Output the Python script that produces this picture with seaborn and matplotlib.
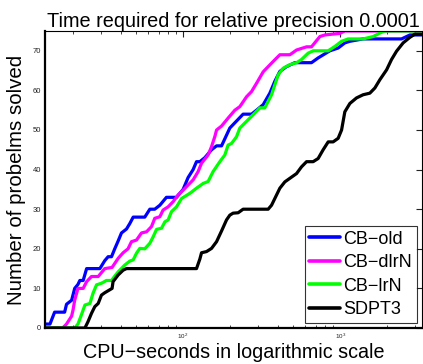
import numpy as np
import pandas as pd
import matplotlib
matplotlib.use("Agg")
import matplotlib.pyplot as plt
import seaborn as sns
from matplotlib.ticker import LogLocator, NullFormatter, FixedLocator

# ---- data (CPU seconds, number of problems solved) ----
cb_old_x = [13.2, 14.2, 15.2, 17.6, 18.1, 19.5, 20.4, 21.4, 22.0, 23.1, 24.3, 29.5, 31.7, 33.3, 35.0,
            36.7, 38.6, 40.5, 43.6, 45.8, 48.1, 57.0, 61.4, 66.0, 71.1, 78.3, 90.8, 100, 107.6, 115.8,
            121.7, 127.8, 137.4, 151.7, 163.3, 175.7, 189, 198.4, 241, 272.7, 293.5, 323.6, 356.6,
            383.7, 413, 455.8, 514, 657, 724, 860, 971, 1071, 1153, 1400, 2460, 2780, 3300]
cb_old_y = [1, 1, 4, 4, 6, 7, 10, 11, 12, 12, 15, 15, 17, 18, 18,
            20, 22, 24, 25, 26.4, 28, 28, 30, 30, 31, 33, 33, 35, 38, 40,
            42, 42, 43, 45, 46, 46, 48.7, 50.5, 54, 54, 55, 56.4, 59.3,
            62.3, 64.8, 66, 67, 67, 68.2, 70, 70.7, 72, 72.4, 73, 73, 74, 74]

cb_dlrn_x = [13.2, 17.1, 18.1, 19.5, 19.9, 20.4, 21.4, 23.1, 24.3, 26.1, 28.8, 31.7, 35.3, 36.7, 38.6,
             41.5, 44.6, 46.9, 50.5, 54.3, 58.5, 62.9, 66.0, 71.1, 74.6, 80.3, 86.4, 92.9, 100, 107.6,
             115.8, 124.6, 131, 144.3, 151.7, 159.1, 163.3, 175.7, 193.4, 213.5, 229.7, 253.5, 272.7,
             293.5, 323.6, 347.9, 374.4, 413, 478.3, 527.7, 610.9, 657, 742.5, 799, 995, 1071, 3300]
cb_dlrn_y = [0, 0, 1, 3, 4.5, 7, 10, 10, 11.7, 13, 13, 15, 15.3, 16.3, 17.6,
             19, 20, 21.8, 22.2, 24, 24.3, 25.6, 27.7, 28.1, 29.8, 30.6, 31.9, 33.6, 34.8, 36.1,
             37.4, 39.5, 41.6, 43.7, 45.8, 48.3, 50, 51, 53, 55, 55.9, 58.4, 59.7,
             61.8, 64.7, 66, 67.3, 69, 69, 70.2, 71, 71, 73.6, 74, 74.4, 75, 75]

cb_lrn_x = [13.2, 20.4, 21.4, 22.5, 23.7, 25.5, 26.7, 28.1, 30.2, 32.5, 35.0, 36.7, 38.6, 42.5, 45.8,
            48.1, 50.5, 53.0, 57.0, 61.4, 64.4, 67.7, 72.9, 76.5, 80.3, 84.4, 90.8, 97.7, 110.3, 121.7,
            134.1, 144.3, 155.2, 171.3, 184.4, 193.4, 203.4, 218.8, 229.7, 253.5, 286.2, 308, 331.4,
            365.7, 383.7, 402.7, 433.5, 478.3, 527.7, 567.5, 625.3, 673, 839, 925, 1021, 1125, 1400,
            1622, 1790, 1927, 3300]
cb_lrn_y = [0, 0, 1, 3.3, 5.8, 6.2, 8.8, 10.9, 11.3, 12, 12, 13.1, 14.2, 15.9, 16.9,
            17.2, 18.9, 20.1, 20, 21.4, 23, 24.9, 25.2, 26.8, 27.3, 29.4, 30.6, 32.7, 34, 35.3,
            36.5, 37, 39.5, 42, 43.7, 46.2, 46.6, 48.3, 50.5, 52.2, 54.3, 55.6, 55.6,
            58.9, 61.4, 63.9, 65.6, 66.5, 67, 67.8, 69.4, 70, 70, 71.1, 72.4, 73, 73,
            73.6, 74.5, 75, 75]

sdpt3_x = [13.2, 23.7, 24.8, 26.1, 27.4, 28.8, 30.2, 31.7, 35.3, 35.8, 38.6, 41.5, 43.6, 121.7, 127.8,
           131, 141, 151.7, 163.3, 175.7, 189, 198.4, 208.1, 224.1, 241, 347.9, 365.7, 393.6, 413,
           444.4, 478.3, 527.7, 567.5, 610.9, 673, 724, 779, 839, 902, 971, 1021, 1071, 1153, 1271,
           1400, 1545, 1663, 1790, 1976, 2124, 2286, 2518, 2780, 2990, 3300]
sdpt3_y = [0, 0, 1.6, 3.7, 5.4, 6.2, 8.3, 8.9, 10, 11.7, 13.4, 14.6, 15, 15, 17.4,
           19, 19.3, 20.1, 21.8, 24.5, 27.3, 28.5, 29, 29.1, 30, 30, 31, 33.6, 35.3,
           36.9, 37.8, 39, 40.7, 42, 42, 42.8, 45, 47, 47, 47.9, 50, 54.6, 56.7, 58.1,
           58.9, 59.3, 60.6, 62.7, 65.2, 67.8, 69.9, 72, 73.4, 74.2, 74.2]

solvers = ["CB\u2212old", "CB\u2212dlrN", "CB\u2212lrN", "SDPT3"]
colors = ["#0000ff", "#ff00ff", "#00ff00", "#000000"]
yticks = [0, 10, 20, 30, 40, 50, 60, 70]

series = [(cb_old_x, cb_old_y), (cb_dlrn_x, cb_dlrn_y), (cb_lrn_x, cb_lrn_y), (sdpt3_x, sdpt3_y)]
frames = []
for name, (xs, ys) in zip(solvers, series):
    frames.append(pd.DataFrame({"time": xs, "solved": ys, "solver": name}))
df = pd.concat(frames, ignore_index=True)

sns.set_style("white")
plt.rcParams['font.family'] = ['Liberation Sans', 'DejaVu Sans']
plt.rcParams['mathtext.fontset'] = 'custom'
plt.rcParams['mathtext.rm'] = 'Liberation Sans'
plt.rcParams['text.color'] = 'black'
plt.rcParams['axes.labelcolor'] = 'black'

fig = plt.figure(figsize=(4.23, 3.64), dpi=100)
ax = fig.add_axes([45 / 423, 36 / 364, 377 / 423, 297 / 364])

sns.lineplot(data=df, x="time", y="solved", hue="solver", hue_order=solvers,
             palette=colors, estimator=None, sort=False, linewidth=2.3, ax=ax)

ax.set_xscale("log")
ax.set_xlim(13.2, 3320)
ax.set_ylim(0, 75)

ax.set_yticks(yticks)
ax.set_yticklabels([str(v) for v in yticks], fontsize=5.5, color="#222222")
ax.xaxis.set_major_locator(FixedLocator([100, 1000]))
ax.set_xticklabels([r"$10^2$", r"$10^3$"], fontsize=4.5, color="#222222")
ax.xaxis.set_minor_locator(LogLocator(base=10, subs=np.arange(2, 10)))
ax.xaxis.set_minor_formatter(NullFormatter())
ax.tick_params(axis="both", which="major", direction="in", length=4, width=0.8,
               top=True, right=True, pad=3, colors="#222222")
ax.tick_params(axis="x", which="minor", direction="in", length=2.5, width=0.6,
               top=True, bottom=True)
ax.tick_params(axis="y", labelcolor="#222222")

for s in ax.spines.values():
    s.set_visible(True)
    s.set_color("black")
    s.set_linewidth(0.8)
ax.spines["left"].set_linewidth(1.6)
ax.spines["bottom"].set_linewidth(1.6)

ax.set_title("Time required for relative precision 0.0001", fontsize=14.3, pad=3, color="black")
ax.set_xlabel("CPU\u2212seconds in logarithmic scale", fontsize=14.2, labelpad=1)
ax.set_ylabel("Number of probelms solved", fontsize=14.8, labelpad=5)

leg = ax.legend(loc="lower right", fontsize=13, frameon=True, fancybox=False,
                edgecolor="black", borderaxespad=0.3, handlelength=1.7,
                handletextpad=0.2, labelspacing=0.36, borderpad=0.25)
leg.get_frame().set_linewidth(0.8)
for line in leg.get_lines():
    line.set_linewidth(2.6)

fig.savefig("out.png", dpi=100)
